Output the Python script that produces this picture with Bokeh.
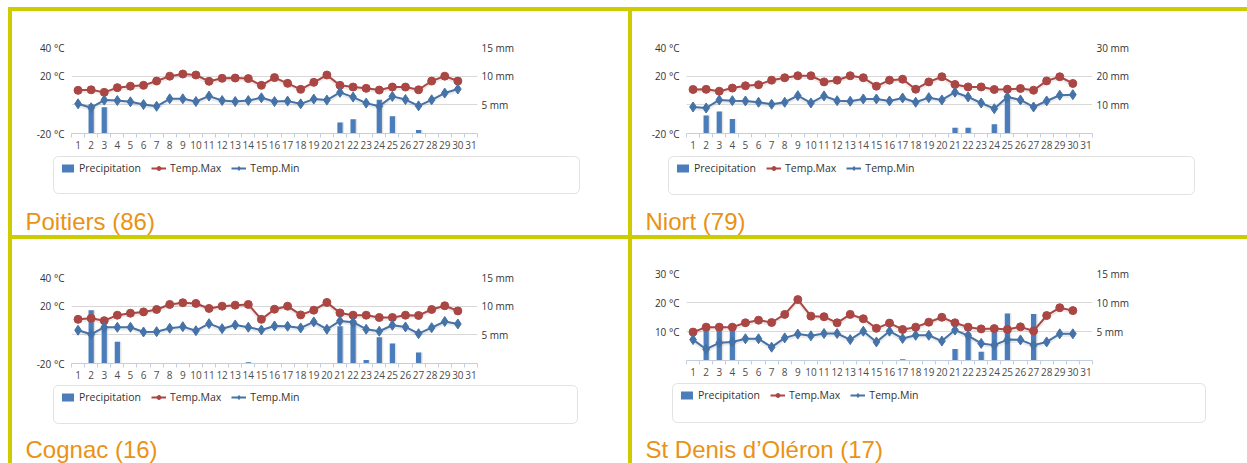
from bokeh.plotting import figure
from bokeh.models import (Range1d, LinearAxis, FixedTicker, CustomJSTickFormatter, Legend,
                          LegendItem, BoxAnnotation, Label, Spacer, ColumnDataSource)
from bokeh.layouts import column, row
from bokeh.transform import dodge
from bokeh.embed import file_html
from bokeh.resources import INLINE

# ---------------- data ----------------
days = list(range(1, 32))            # x categories (1..31)
data_days = list(range(1, 31))       # days with observations

poitiers_title = "Poitiers (86)"
poitiers_tmax = [10.1, 10.5, 8.7, 12.0, 13.0, 13.6, 16.6, 20.0, 21.5, 20.8, 16.4, 18.5, 18.7, 18.3, 13.6,
                 19.0, 15.0, 10.8, 15.7, 20.8, 13.6, 12.4, 11.5, 10.3, 12.4, 12.4, 10.5, 16.6, 20.0, 16.6]
poitiers_tmin = [0.7, -2.0, 3.3, 3.0, 2.1, 0.2, -1.0, 4.2, 4.2, 2.3, 6.1, 3.0, 2.3, 3.0, 4.9,
                 2.3, 2.6, 0.7, 4.0, 3.3, 8.7, 5.4, 1.2, -1.0, 5.9, 3.7, -0.7, 3.5, 8.2, 11.0]
poitiers_precip = [0, 5.1, 4.6, 0.1, 0, 0, 0, 0, 0, 0, 0, 0, 0, 0, 0,
                   0, 0, 0, 0, 0, 1.9, 2.5, 0, 5.9, 3.0, 0.1, 0.6, 0, 0, 0]

niort_title = "Niort (79)"
niort_tmax = [10.7, 10.8, 9.5, 11.7, 13.3, 14.0, 17.2, 18.9, 20.3, 20.3, 16.0, 17.2, 20.3, 18.9, 13.0,
              17.2, 17.9, 10.9, 16.0, 19.6, 14.2, 12.5, 12.5, 10.7, 10.9, 11.4, 10.2, 16.7, 19.6, 14.9]
niort_tmin = [-1.5, -2.2, 3.4, 2.9, 2.7, 1.8, 0.4, 1.8, 6.4, 1.3, 6.2, 2.9, 2.5, 4.1, 4.1,
              2.7, 4.8, 1.8, 5.0, 3.4, 8.8, 5.5, 1.3, -2.7, 5.5, 3.4, -1.5, 2.7, 6.7, 7.1]
niort_precip = [0, 6.3, 7.7, 5.1, 0, 0, 0, 0, 0, 0, 0, 0, 0, 0, 0,
                0, 0, 0, 0, 0, 2.0, 2.0, 0.1, 3.2, 12.7, 0, 0.2, 0, 0, 0]

cognac_title = "Cognac (16)"
cognac_tmax = [10.8, 11.5, 9.9, 13.7, 15.1, 16.0, 17.7, 21.2, 22.4, 21.9, 18.4, 20.0, 20.7, 21.2, 10.8,
               17.9, 20.0, 13.9, 17.2, 22.6, 15.3, 13.7, 13.7, 12.1, 12.1, 13.7, 13.5, 17.7, 20.3, 16.7]
cognac_tmin = [3.2, 0.4, 5.3, 5.3, 5.3, 2.0, 2.2, 4.6, 5.7, 2.9, 7.8, 4.3, 6.9, 5.3, 3.4,
               6.2, 6.0, 4.8, 9.0, 3.9, 9.7, 8.8, 3.9, 2.5, 6.7, 5.5, 0.8, 5.0, 9.3, 7.6]
cognac_precip = [0, 9.3, 6.3, 3.8, 0, 0, 0, 0, 0, 0, 0, 0, 0, 0.2, 0,
                 0, 0, 0, 0, 0, 6.5, 7.5, 0.6, 4.6, 3.5, 0, 1.9, 0, 0, 0]

stdenis_title = "St Denis d\u2019Oléron (17)"
stdenis_tmax = [9.8, 11.5, 11.5, 11.5, 13.0, 13.9, 13.1, 15.9, 21.0, 15.3, 15.1, 13.0, 15.9, 14.4, 11.1,
                12.9, 10.7, 11.5, 13.2, 14.9, 13.0, 11.5, 10.9, 11.0, 10.7, 11.6, 10.2, 15.5, 18.2, 17.2]
stdenis_tmin = [7.2, 3.9, 6.1, 6.4, 7.5, 7.5, 4.6, 7.8, 9.1, 8.5, 9.3, 9.3, 7.2, 10.1, 6.4,
                10.1, 7.6, 8.7, 8.7, 6.7, 10.5, 8.6, 5.9, 5.3, 7.2, 7.1, 5.3, 6.4, 9.2, 9.2]
stdenis_precip = [0, 5.6, 5.6, 5.6, 0, 0, 0, 0, 0, 0, 0, 0.05, 0, 0, 0,
                  0, 0.2, 0, 0, 0, 2.0, 4.8, 1.5, 5.4, 8.1, 0, 8.0, 0, 0, 0]

temp_ticks_a = [-20, 0, 20, 40]
temp_ticks_b = [0, 10, 20, 30]
mm_ticks_15 = [0, 5, 10, 15]
mm_ticks_30 = [0, 10, 20, 30]
legend_labels = ["Precipitation", "Temp.Max", "Temp.Min"]

# ---------------- style ----------------
YELLOW = "#CCCC00"
ORANGE = "#EA9214"
RED = "#AA4643"
BLUE = "#4572A7"
BAR = "#4A7DBA"
GRID = "#D8D8D8"
AXIS = "#C0D0E0"
TXT = "#4D4D4D"
FONT = "Open Sans"
NAN = float("nan")

PANEL_H = 224
SPLIT = 142   # chart part / legend+title part

panels = [
    dict(title=poitiers_title, tmax=poitiers_tmax, tmin=poitiers_tmin, precip=poitiers_precip,
         tt=temp_ticks_a, mt=mm_ticks_15, w=616, bl=59, br=151, bt=36, fh=86,
         box=(41, 145, 567, 182), txy=(13, 218)),
    dict(title=niort_title, tmax=niort_tmax, tmin=niort_tmin, precip=niort_precip,
         tt=temp_ticks_a, mt=mm_ticks_30, w=615, bl=54, br=155, bt=36, fh=86,
         box=(36, 145, 562, 183), txy=(13, 218)),
    dict(title=cognac_title, tmax=cognac_tmax, tmin=cognac_tmin, precip=cognac_precip,
         tt=temp_ticks_a, mt=mm_ticks_15, w=616, bl=59, br=151, bt=38, fh=86,
         box=(41, 146, 565, 184), txy=(13, 218)),
    dict(title=stdenis_title, tmax=stdenis_tmax, tmin=stdenis_tmin, precip=stdenis_precip,
         tt=temp_ticks_b, mt=mm_ticks_15, w=615, bl=54, br=155, bt=34, fh=87,
         box=(40, 144, 573, 183), txy=(13, 218)),
]


def no_align(fig):
    try:
        fig.frame_align = False
    except Exception:
        pass


def style_axis(ax, standoff, color):
    ax.axis_line_color = None
    ax.major_tick_line_color = None
    ax.minor_tick_line_color = None
    ax.major_tick_out = 0
    ax.major_tick_in = 0
    ax.major_label_standoff = standoff
    ax.major_label_text_font = FONT
    ax.major_label_text_font_size = "10px"
    ax.major_label_text_color = color


def make_panel(c):
    W = c["w"]
    tlo, thi = c["tt"][0], c["tt"][-1]
    mlo, mhi = c["mt"][0], c["mt"][-1]
    p = figure(width=W, height=SPLIT, output_backend="svg", toolbar_location=None,
               x_range=Range1d(0.5, 31.5), y_range=Range1d(tlo, thi),
               min_border_left=c["bl"], min_border_right=c["br"], min_border_top=c["bt"],
               min_border_bottom=SPLIT - c["bt"] - c["fh"],
               background_fill_color="white", border_fill_color="white", outline_line_color=None)
    no_align(p)
    p.extra_y_ranges = {"mm": Range1d(mlo, mhi)}

    src = ColumnDataSource(dict(day=data_days, tmax=c["tmax"], tmin=c["tmin"], precip=c["precip"]))
    px_t = (thi - tlo) / c["fh"]  # one pixel in temperature units

    # bars (with soft shadow)
    p.vbar(x=dodge("day", 0.11), top="precip", bottom=0, width=0.4, source=src,
           y_range_name="mm", fill_color="#D5D5D5", line_color=None, fill_alpha=0.7)
    p.vbar(x="day", top="precip", bottom=0, width=0.4, source=src,
           y_range_name="mm", fill_color=BAR, line_color=None)

    # Temp.Max
    p.line(x="day", y=dodge("tmax", -1.2 * px_t), source=src, line_color="black",
           line_alpha=0.08, line_width=4)
    p.line(x="day", y="tmax", source=src, line_color=RED, line_width=2)
    p.scatter(x="day", y="tmax", source=src, marker="circle", size=8,
              fill_color=RED, line_color=RED)
    # Temp.Min
    p.line(x="day", y=dodge("tmin", -1.2 * px_t), source=src, line_color="black",
           line_alpha=0.08, line_width=4)
    p.line(x="day", y="tmin", source=src, line_color=BLUE, line_width=2)
    p.scatter(x="day", y="tmin", source=src, marker="diamond", size=10,
              fill_color=BLUE, line_color=BLUE)

    # x axis
    xa = p.xaxis[0]
    xa.ticker = FixedTicker(ticks=days, minor_ticks=[d - 0.5 for d in days] + [31.5])
    style_axis(xa, 3, TXT)
    xa.axis_line_color = AXIS
    xa.minor_tick_line_color = AXIS
    xa.minor_tick_out = 4
    xa.minor_tick_in = 0

    # left axis
    ya = p.yaxis[0]
    ya.ticker = FixedTicker(ticks=c["tt"])
    ya.formatter = CustomJSTickFormatter(code="return tick == 0 ? '' : tick + ' \u00b0C';")
    style_axis(ya, 7, "#333333")

    p.xgrid.grid_line_color = None
    p.ygrid.ticker = FixedTicker(ticks=[t for t in c["tt"] if t != tlo])
    p.ygrid.grid_line_color = GRID

    # right axis (mm)
    ra = LinearAxis(y_range_name="mm", ticker=FixedTicker(ticks=c["mt"]),
                    formatter=CustomJSTickFormatter(code="return tick == 0 ? '' : tick + ' mm';"))
    style_axis(ra, 4, "#333333")
    p.add_layout(ra, "right")

    # ---- lower part: legend box + legend + station title ----
    HB = PANEL_H - SPLIT
    b = figure(width=W, height=HB, output_backend="svg", toolbar_location=None,
               x_range=Range1d(0, W), y_range=Range1d(HB, 0), min_border=0,
               x_axis_location=None, y_axis_location=None,
               background_fill_color="white", border_fill_color="white", outline_line_color=None)
    no_align(b)
    b.grid.visible = False

    bx0, by0, bx1, by1 = c["box"]
    b.add_layout(BoxAnnotation(left=bx0, right=bx1, top=by0 - SPLIT, bottom=by1 - SPLIT,
                               fill_color="white", fill_alpha=1, line_color="#A0A0A0",
                               line_width=1, border_radius=5))

    key = ColumnDataSource(dict(x=[NAN], y=[NAN]))
    kb = b.vbar(x="x", top="y", width=1, source=key, fill_color=BAR, line_color=None)
    kl1 = b.line(x="x", y="y", source=key, line_color=RED, line_width=2)
    ks1 = b.scatter(x="x", y="y", source=key, marker="circle", size=8, fill_color=RED, line_color=RED)
    kl2 = b.line(x="x", y="y", source=key, line_color=BLUE, line_width=2)
    ks2 = b.scatter(x="x", y="y", source=key, marker="diamond", size=10, fill_color=BLUE, line_color=BLUE)

    leg_h = 14
    vx = bx0 + 7
    vy = HB - (by0 + 12 + leg_h / 2 - SPLIT)
    legend = Legend(items=[LegendItem(label=legend_labels[0], renderers=[kb]),
                           LegendItem(label=legend_labels[1], renderers=[kl1, ks1]),
                           LegendItem(label=legend_labels[2], renderers=[kl2, ks2])],
                    location=(vx, vy), orientation="horizontal", border_line_color=None,
                    background_fill_alpha=0, glyph_width=15, glyph_height=10, label_standoff=4,
                    spacing=10, padding=0, margin=0, label_height=12,
                    label_text_font=FONT, label_text_font_size="10.5px",
                    label_text_color="#333333")
    b.add_layout(legend)

    tx, ty = c["txy"]
    b.add_layout(Label(x=tx, y=ty - SPLIT - 8, text=c["title"],
                       text_font="Liberation Sans", text_font_size="24px",
                       text_color=ORANGE, text_baseline="middle", text_align="left"))
    return column(p, b)


cells = [make_panel(c) for c in panels]

ys = {"background-color": YELLOW}
inner = column(
    Spacer(width=1239, height=4, styles=ys),
    row(Spacer(width=4, height=PANEL_H, styles=ys), cells[0],
        Spacer(width=4, height=PANEL_H, styles=ys), cells[1]),
    Spacer(width=1239, height=4, styles=ys),
    row(Spacer(width=4, height=PANEL_H, styles=ys), cells[2],
        Spacer(width=4, height=PANEL_H, styles=ys), cells[3]),
)
layout = column(Spacer(width=1247, height=7), row(Spacer(width=8, height=456), inner))

open("out.html", "w").write(file_html(layout, INLINE))
